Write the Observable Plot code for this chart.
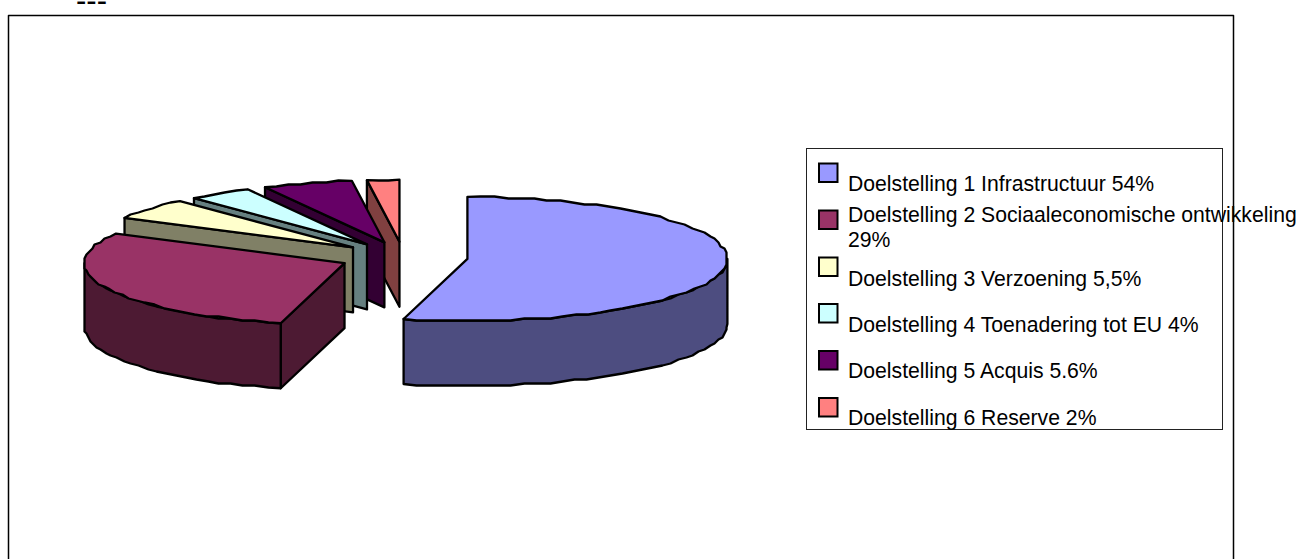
<!DOCTYPE html>
<html>
<head>
<meta charset="utf-8">
<script src="https://cdn.jsdelivr.net/npm/d3@7"></script>
<script src="https://cdn.jsdelivr.net/npm/@observablehq/plot@0.6"></script>
<style>
html,body{margin:0;padding:0;background:#fff;overflow:hidden}
svg{display:block}
</style>
</head>
<body>
<div id="chart"></div>
<script>
// Data
const categories = ["Doelstelling 1","Doelstelling 2","Doelstelling 3","Doelstelling 4","Doelstelling 5","Doelstelling 6"];
const shares = [54, 29, 5.5, 4, 5.6, 2];
const legendLabels = [
  "Doelstelling 1 Infrastructuur 54%",
  "Doelstelling 2 Sociaaleconomische ontwikkeling\n29%",
  "Doelstelling 3 Verzoening 5,5%",
  "Doelstelling 4 Toenadering tot EU 4%",
  "Doelstelling 5 Acquis 5.6%",
  "Doelstelling 6 Reserve 2%"
];
// Styles
const topColors  = ["#9999FF","#993366","#FFFFCC","#CCFFFF","#660066","#FF8080"];
const sideColors = ["#4D4D80","#4D1A33","#808066","#668080","#330033","#804040"];

// Layout of the pseudo-3D pie
const W = 1302, H = 559;
const cx = 403, cy = 256.5, rx = 260, ry = 62, depth = 65, explode = 64.4, grid = 2;
const rad = d => d * Math.PI / 180;
const total = d3.sum(shares);

let cum = 0;
const slices = shares.map((v, i) => {
  const a0 = cum / total * 360; cum += v;
  const a1 = cum / total * 360;
  const mid = rad((a0 + a1) / 2);
  return {i, a0, a1,
    ox: cx + explode * Math.sin(mid),
    oy: cy - explode * (ry / rx) * Math.cos(mid)};
});
const rimPoint = (s, a) => ({x: s.ox + rx * Math.sin(rad(a)), y: s.oy - ry * Math.cos(rad(a))});
// the rim is a coarse, slightly stepped outline, like the low-resolution original
const snap = p => ({x: Math.round(p.x / grid) * grid, y: Math.round(p.y / grid) * grid});
const arc = (s, a, b) => {
  const n = Math.max(1, Math.ceil((b - a) / 3));
  return d3.range(n + 1).map(k => {
    const p = rimPoint(s, a + (b - a) * k / n);
    return k === 0 || k === n ? p : snap(p);
  });
};

// Polygons, painted back to front
const polys = [];
const addPoly = (id, color, pts) => pts.forEach(p => polys.push({id, color, x: p.x, y: p.y}));
[...slices].reverse().forEach(s => {
  const o = {x: s.ox, y: s.oy};
  if (s.i > 0) {
    const p = rimPoint(s, s.a0);
    addPoly(`cut${s.i}`, sideColors[s.i], [o, p, {x: p.x, y: p.y + depth}, {x: o.x, y: o.y + depth}]);
  }
  const w0 = Math.max(s.a0, 90), w1 = Math.min(s.a1, 270);
  if (w1 > w0) {
    const rim = arc(s, w0, w1);
    addPoly(`wall${s.i}`, sideColors[s.i], [...rim, ...rim.slice().reverse().map(p => ({x: p.x, y: p.y + depth}))]);
  }
  addPoly(`top${s.i}`, topColors[s.i], [o, ...arc(s, s.a0, s.a1)]);
});

// Legend layout
const swatchTops = [163.5, 210.5, 257.5, 304, 351, 398];
const firstBaselines = [190.7, 221.7, 285, 331.5, 377.7, 424.3];
const legendSwatches = categories.map((c, i) => ({c, i, y1: swatchTops[i], y2: swatchTops[i] + 18.5}));
const legendRows = legendLabels.flatMap((t, i) =>
  t.split("\n").map((line, j) => ({line, y: firstBaselines[i] + j * 24.3})));

const frame = [{x: 8, y: H}, {x: 8, y: 15}, {x: 1233, y: 15}, {x: 1233, y: H}];

const chart = Plot.plot({
  width: W, height: H,
  margin: 0,
  style: {background: "#fff"},
  x: {domain: [0, W], range: [0, W], axis: null},
  y: {domain: [0, H], range: [0, H], axis: null},
  color: {type: "identity"},
  marks: [
    Plot.line(frame, {x: "x", y: "y", stroke: "#000", strokeWidth: 1.5}),
    Plot.text(["---"], {x: () => 75.5, y: () => 10.2, text: d => d, textAnchor: "start", lineAnchor: "bottom",
      fontFamily: "Liberation Sans", fontSize: 31, fill: "#000"}),
    Plot.line(polys, {x: "x", y: "y", z: "id", fill: "color", stroke: "#000", strokeWidth: 2.3,
      strokeLinejoin: "round", curve: "linear-closed"}),
    Plot.rect([0], {x1: () => 806.5, x2: () => 1222.5, y1: () => 148.5, y2: () => 429.5,
      fill: "none", stroke: "#222", strokeWidth: 1}),
    Plot.rect(legendSwatches, {x1: () => 819, x2: () => 837.5, y1: "y1", y2: "y2",
      fill: d => topColors[d.i], stroke: "#000", strokeWidth: 2}),
    Plot.text(legendRows, {x: () => 847.5, y: "y", text: "line", textAnchor: "start", lineAnchor: "bottom",
      fontFamily: "Liberation Sans", fontSize: 21.2, fill: "#000"})
  ]
});
document.getElementById("chart").append(chart);
</script>
</body>
</html>
